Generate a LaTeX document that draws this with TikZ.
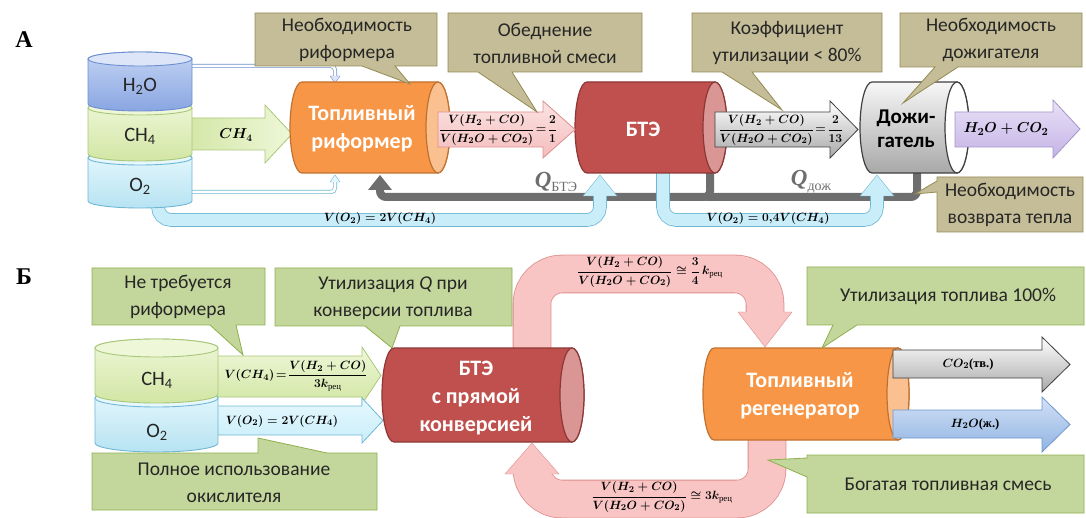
\documentclass[tikz,border=0pt]{standalone}
\usepackage{amsmath}
\usepackage[no-math]{fontspec}
\setmainfont{Carlito}
\newfontfamily\sercyr{Liberation Serif}
\usetikzlibrary{fit}
\definecolor{oliveF}{HTML}{C4BD97}
\definecolor{oliveD}{HTML}{948A54}
\definecolor{greenF}{HTML}{C3D69B}
\definecolor{greenD}{HTML}{8FAF4E}
\definecolor{orF}{HTML}{F79646}
\definecolor{orD}{HTML}{C0712F}
\definecolor{orC}{HTML}{FAC090}
\definecolor{rdF}{HTML}{C0504D}
\definecolor{rdD}{HTML}{8C3836}
\definecolor{rdC}{HTML}{D99694}
\definecolor{pkF}{HTML}{F8C4C4}
\definecolor{pkL}{HTML}{FCE3E3}
\definecolor{pkD}{HTML}{DC8F8D}
\definecolor{cyF}{HTML}{C9EEFA}
\definecolor{cyL}{HTML}{E6F8FD}
\definecolor{cyD}{HTML}{6FB7D3}
\definecolor{pipeG}{HTML}{6E6E6E}
\definecolor{grL}{HTML}{F7F7F7}
\definecolor{grM}{HTML}{A8A8A8}
\definecolor{grD}{HTML}{3F3F3F}
\definecolor{puL}{HTML}{E9E1F7}
\definecolor{puF}{HTML}{C4B3E6}
\definecolor{puD}{HTML}{A594C9}
\definecolor{gaL}{HTML}{EEF7D8}
\definecolor{gaF}{HTML}{D2E6A4}
\definecolor{gaD}{HTML}{A9C77A}
\definecolor{blL}{HTML}{D3E1F5}
\definecolor{blF}{HTML}{8FB3E3}
\definecolor{blD}{HTML}{6E97CF}
\definecolor{hoL}{HTML}{C3D3F3}
\definecolor{hoF}{HTML}{89A6E2}
\definecolor{hoD}{HTML}{6D8FCF}
\definecolor{hoC}{HTML}{DDE6F8}
\definecolor{txt}{HTML}{262626}

\newcommand\bmath[1]{{\boldmath$#1$}}
\newcommand\rec{\text{\sercyr\mdseries рец}}

% horizontal cylinder: name, L, right-cap centre x, T, B, rx, body style, cap style
\newcommand\HCyl[8]{%
  \pgfmathsetmacro\hry{(#5-#4)/2}%
  \pgfmathsetmacro\hcy{(#5+#4)/2}%
  \draw[#7] (#2+#6,#4) -- (#3,#4) arc[start angle=90,end angle=-90,x radius=#6pt,y radius=\hry pt]
     -- (#2+#6,#5) arc[start angle=270,end angle=90,x radius=#6pt,y radius=\hry pt] -- cycle;
  \draw[#8] (#3,\hcy) ellipse[x radius=#6pt,y radius=\hry pt];
  \node[fit={(#2,#4) (#3+#6,#5)},inner sep=0pt] (#1) {};
}
% vertical cylinder segment: name, L, R, top-cap y, bottom-arc y, ry, body style, cap style
\newcommand\VCyl[8]{%
  \pgfmathsetmacro\vrx{(#3-#2)/2}%
  \pgfmathsetmacro\vcx{(#3+#2)/2}%
  \draw[#7] (#2,#4) -- (#2,#5) arc[start angle=180,end angle=360,x radius=\vrx pt,y radius=#6pt]
     -- (#3,#4) arc[start angle=0,end angle=180,x radius=\vrx pt,y radius=#6pt] -- cycle;
  \draw[#8] (\vcx,#4) ellipse[x radius=\vrx pt,y radius=#6pt];
  \node[fit={(#2,#4-#6) (#3,#5+#6)},inner sep=0pt] (#1) {};
}
% right block arrow: style, x0, head x, tip x, body T, body B, head T, head B
\newcommand\RArr[8]{%
  \draw[#1] (#2,#5) -- (#3,#5) -- (#3,#7) -- (#4,{(#7+#8)/2}) -- (#3,#8) -- (#3,#6) -- (#2,#6) -- cycle;
}
% vertical head for a band: fill, draw, cx, base y, tip y, half width, band half
\newcommand\VHead[7]{%
  \fill[#1] (#3-#6,#4) -- (#3,#5) -- (#3+#6,#4) -- cycle;
  \draw[#2] (#3-#7,#4) -- (#3-#6,#4) -- (#3,#5) -- (#3+#6,#4) -- (#3+#7,#4);
}
% callout, pointer on bottom edge: style, L, R, T, B, p1x, p2x, tip
\newcommand\CallB[8]{%
  \draw[#1] (#2,#4) -- (#3,#4) -- (#3,#5) -- (#7,#5) -- #8 -- (#6,#5) -- (#2,#5) -- cycle;
}

\tikzset{
  olive/.style={fill=oliveF,draw=oliveD,line width=0.8pt},
  greenbox/.style={fill=greenF,draw=greenD,line width=0.8pt},
  ctext/.style={font=\fontsize{19.5}{27}\selectfont,align=center,text=txt,inner sep=0pt},
  ttext/.style={font=\fontsize{20.5}{24}\selectfont,text=txt,inner sep=0pt},
  wtext/.style={font=\fontsize{22}{28}\selectfont\bfseries,align=center,text=white,inner sep=0pt},
  mlab/.style={font=\fontsize{12.5}{14}\selectfont,text=black,inner sep=0pt},
  qlab/.style={font=\sercyr\fontsize{23}{23}\selectfont\bfseries\itshape,text=pipeG,inner sep=0pt},
  panlab/.style={font=\sercyr\fontsize{24}{24}\selectfont\bfseries,text=black,inner sep=0pt},
  pipe/.style={pipeG,line width=8pt,rounded corners=6pt},
  cyband/.style={draw=cyD,line width=0.8pt,double=cyF,double distance=12pt,rounded corners=13pt},
  pkband/.style={draw=pkD,line width=0.8pt,double=pkF,double distance=37pt,rounded corners=30pt},
}

\begin{document}
\begin{tikzpicture}[x=1pt,y=-1pt]
\useasboundingbox (0,0) rectangle (1086,518);

\node[panlab] (labA) at (24,40) {А};
\node[panlab] (labB) at (24,277) {Б};

% ================= PANEL A =================
% heat pipe
\draw[pipe] (710,165) -- (710,197) -- (380,197) -- (380,189);
\draw[pipe] (917,165) -- (917,197) -- (706,197);
\fill[pipeG] (368,190) -- (380,175) -- (392,190) -- cycle;
\node[qlab] (qbte) at (556,182) {Q\raisebox{-0.45ex}{\upshape\mdseries\fontsize{14}{14}\selectfont БТЭ}};
\node[qlab] (qdoz) at (811,182) {Q\raisebox{-0.45ex}{\upshape\mdseries\fontsize{14}{14}\selectfont дож}};

% cyan oxygen bands
\draw[cyband] (158,195) -- (158,220) -- (600,220) -- (600,195);
\VHead{cyF}{cyD}{600}{196}{175}{17}{6.4}
\draw[cyband] (663,165) -- (663,220) -- (877,220) -- (877,195);
\VHead{cyF}{cyD}{877}{196}{175}{17}{6.4}
\node[mlab] (vo2a) at (380,219) {\bmath{V(O_2)=2V(CH_4)}};
\node[mlab] (vo2b) at (768,219) {\bmath{V(O_2)=0{,}4V(CH_4)}};

% thin lines to reformer
\draw[draw=hoD,line width=0.7pt,double=white,double distance=2.6pt,rounded corners=4pt] (186,66) -- (335,66) -- (335,77);
\VHead{hoC}{hoD}{335}{76}{83}{5}{1.6}
\draw[draw=cyD,line width=0.7pt,double=white,double distance=2.6pt,rounded corners=4pt] (186,192) -- (335,192) -- (335,182);
\VHead{cyL}{cyD}{335}{182}{175}{5}{1.6}

% CH4 arrow
\RArr{draw=gaD,line width=0.8pt,left color=gaF,right color=gaL}{180}{265}{292}{118}{150}{105}{163}
\node[mlab,font=\fontsize{14.5}{15}\selectfont] (ch4a) at (236,135) {\bmath{CH_4}};

% tanks A
\VCyl{tO2a}{88}{192}{158}{201}{7}{draw=cyD,line width=0.9pt,top color=cyL,bottom color=cyF!80!cyD}{draw=cyD,line width=0.9pt,fill=cyL}
\VCyl{tCH4a}{88}{192}{108}{154}{7}{draw=gaD,line width=0.9pt,top color=gaL,bottom color=gaF}{draw=gaD,line width=0.9pt,fill=gaL}
\VCyl{tH2Oa}{88}{192}{59}{104}{7}{draw=hoD,line width=0.9pt,top color=hoL,bottom color=hoF}{draw=hoD,line width=0.9pt,fill=hoC}
\node[ttext] (h2oA) at (140,86) {H\textsubscript{2}O};
\node[ttext] (ch4A) at (140,136) {CH\textsubscript{4}};
\node[ttext] (o2A) at (140,186) {O\textsubscript{2}};

% cylinders A
\HCyl{ref}{290}{438}{82}{173}{12}{draw=orD,line width=1.2pt,fill=orF}{draw=orD,line width=1.2pt,fill=orC}
\HCyl{bteA}{575}{715}{82}{173}{12}{draw=rdD,line width=1.2pt,fill=rdF}{draw=rdD,line width=1.2pt,fill=rdC}
\HCyl{dozh}{860}{957}{82}{173}{12}{draw=grD,line width=1.2pt,top color=grL,bottom color=grM}{draw=grD,line width=1.2pt,fill=white}
\node[wtext] (refT) at (362,129) {Топливный\\риформер};
\node[wtext] (bteT) at (643,129) {БТЭ};
\node[wtext,text=black,font=\fontsize{21}{24}\selectfont\bfseries] (dozT) at (906,129) {Дожи-\\гатель};

% block arrows A
\RArr{draw=pkD,line width=0.8pt,top color=pkL,bottom color=pkF!85!pkD}{438}{543}{575}{112}{147}{101}{158}
\node[mlab] (fr1) at (498,130) {\bmath{\dfrac{V(H_2+CO)}{V(H_2O+CO_2)}\!=\!\dfrac{2}{1}}};
\RArr{draw=grD,line width=0.8pt,top color=white,bottom color=grM}{715}{830}{858}{112}{147}{101}{158}
\node[mlab] (fr2) at (781,130) {\bmath{\dfrac{V(H_2+CO)}{V(H_2O+CO_2)}\!=\!\dfrac{2}{13}}};
\RArr{draw=puD,line width=0.8pt,top color=puL,bottom color=puF}{955}{1053}{1080}{112}{147}{100}{158}
\node[mlab,font=\fontsize{15}{16}\selectfont] (outA) at (1006,129) {\bmath{H_2O+CO_2}};

% callouts A
\CallB{olive}{255}{437}{13}{66}{362}{395}{(410,84)}
\node[ctext] (cA1) at (347,40) {Необходимость\\риформера};
\CallB{olive}{448}{642}{13}{72}{478}{512}{(537,112)}
\node[ctext] (cA2) at (545,43) {Обеднение\\топливной смеси};
\CallB{olive}{692}{882}{13}{72}{722}{752}{(782,110)}
\node[ctext] (cA3) at (787,43) {Коэффициент\\утилизации < 80\%};
\draw[olive] (900,13) -- (1082,13) -- (1082,67) -- (958,67) -- (903,103) -- (935,67) -- (900,67) -- cycle;
\node[ctext] (cA4) at (991,40) {Необходимость\\дожигателя};
\draw[olive] (937,177) -- (1083,177) -- (1083,232) -- (937,232) -- (937,192) -- (915,194) -- (937,181) -- cycle;
\node[ctext] (cA5) at (1010,205) {Необходимость\\возврата тепла};

% ================= PANEL B =================
% recirculation loops
\draw[pkband] (532,360) -- (532,274) -- (765,274) -- (765,314);
\VHead{pkF}{pkD}{765}{312}{347}{27}{18.9}
\draw[pkband] (767,430) -- (767,499) -- (532,499) -- (532,472);
\VHead{pkF}{pkD}{532}{474}{443}{27}{18.9}
\node[mlab] (frT) at (650,272) {\bmath{\dfrac{V(H_2+CO)}{V(H_2O+CO_2)}\cong\dfrac{3}{4}\,k_{\rec}}};
\node[mlab] (frB) at (662,497) {\bmath{\dfrac{V(H_2+CO)}{V(H_2O+CO_2)}\cong 3k_{\rec}}};

% feed arrows
\RArr{draw=gaD,line width=0.8pt,top color=gaL,bottom color=gaF}{210}{362}{381}{356}{397}{347}{404}
\node[mlab] (vch4) at (296,376) {\bmath{V(CH_4)\!=\!\dfrac{V(H_2+CO)}{3k_{\rec}}}};
\RArr{draw=cyD,line width=0.8pt,top color=cyL,bottom color=cyF}{210}{362}{383}{406}{435}{398}{443}
\node[mlab] (vo2B) at (282,421) {\bmath{V(O_2)=2V(CH_4)}};

% tanks B
\VCyl{tO2b}{95}{218}{398}{443}{9}{draw=cyD,line width=0.9pt,top color=cyL,bottom color=cyF!80!cyD}{draw=cyD,line width=0.9pt,fill=cyL}
\VCyl{tCH4b}{95}{218}{348}{394}{9}{draw=gaD,line width=0.9pt,top color=gaL,bottom color=gaF}{draw=gaD,line width=0.9pt,fill=gaL}
\node[ttext] (ch4B) at (157,380) {CH\textsubscript{4}};
\node[ttext] (o2B) at (157,432) {O\textsubscript{2}};

% cylinders B
\HCyl{bteB}{382}{572}{348}{442}{12}{draw=rdD,line width=1.2pt,fill=rdF}{draw=rdD,line width=1.2pt,fill=rdC}
\HCyl{regen}{703}{898}{348}{440}{11}{draw=orD,line width=1.2pt,fill=orF}{draw=orD,line width=1.2pt,fill=orC}
\node[wtext] (bteBT) at (476,398) {БТЭ\\с прямой\\конверсией};
\node[wtext] (regT) at (800,396) {Топливный\\регенератор};

% output arrows
\RArr{draw=grD,line width=0.8pt,top color=white,bottom color=grM}{893}{1042}{1070}{350}{378}{337}{392}
\node[mlab] (co2) at (968,364) {\bmath{CO_2}\textbf{\sercyr (тв.)}};
\RArr{draw=blD,line width=0.8pt,top color=blL,bottom color=blF}{893}{1042}{1070}{410}{438}{397}{452}
\node[mlab] (h2oout) at (975,424) {\bmath{H_2O}\textbf{\sercyr (ж.)}};

% callouts B
\CallB{greenbox}{92}{265}{268}{325}{210}{236}{(243,355)}
\node[ctext] (cB1) at (178,297) {Не требуется\\риформера};
\CallB{greenbox}{275}{512}{268}{326}{365}{400}{(392,348)}
\node[ctext] (cB2) at (393,298) {Утилизация \textit{Q} при\\конверсии топлива};
\draw[greenbox] (92,453) -- (258,453) -- (258,438) -- (327,453) -- (377,453) -- (377,510) -- (92,510) -- cycle;
\node[ctext] (cB3) at (234,483) {Полное использование\\окислителя};
\CallB{greenbox}{807}{1084}{267}{325}{833}{857}{(822,348)}
\node[ctext] (cB4) at (948,296) {Утилизация топлива 100\%};
\draw[greenbox] (807,455) -- (1084,455) -- (1084,513) -- (807,513) -- (807,477) -- (768,460) -- (807,458) -- cycle;
\node[ctext] (cB5) at (948,484) {Богатая топливная смесь};
\end{tikzpicture}
\end{document}
